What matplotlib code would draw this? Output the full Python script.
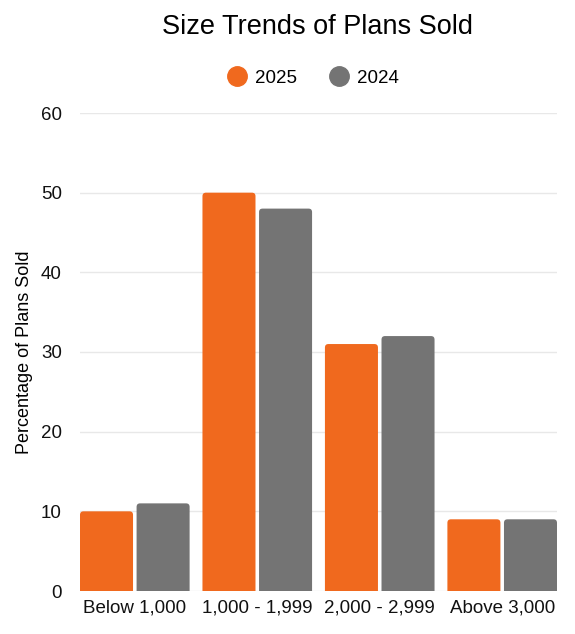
import matplotlib.pyplot as plt
import numpy as np
from matplotlib.patches import PathPatch
from matplotlib.path import Path
from matplotlib.lines import Line2D

plt.rcParams['font.family'] = ['Liberation Sans', 'DejaVu Sans']

categories = ["Below 1,000", "1,000 - 1,999", "2,000 - 2,999", "Above 3,000"]
values_2025 = [10, 50, 31, 9]
values_2024 = [11, 48, 32, 9]
orange = '#F0691E'
gray = '#747474'

fig = plt.figure(figsize=(5.75, 6.34), dpi=100)
ax_l, ax_r, ax_b, ax_t = 80, 557, 591, 113
ax = fig.add_axes([ax_l / 575, (634 - ax_b) / 634, (ax_r - ax_l) / 575, (ax_b - ax_t) / 634])

x = np.arange(len(categories))
w = 0.433
gap = 0.029
bars1 = ax.bar(x - w / 2 - gap / 2, values_2025, w, color=orange, zorder=3)
bars2 = ax.bar(x + w / 2 + gap / 2, values_2024, w, color=gray, zorder=3)

half = w + gap / 2
ax.set_xlim(-half, len(categories) - 1 + half)
ax.set_ylim(0, 60)

px_x = (len(categories) - 1 + 2 * half) / (ax_r - ax_l)
px_y = 60 / (ax_b - ax_t)


def rounded_top(b, rpx=3.5):
    # swap a bar for a path with its two top corners rounded (radius in pixels)
    x0, y0 = b.get_x(), b.get_y()
    x1, y1 = x0 + b.get_width(), y0 + b.get_height()
    rx = rpx * px_x
    ry = rpx * px_y
    verts = [(x0, y0), (x1, y0), (x1, y1 - ry), (x1, y1), (x1 - rx, y1),
             (x0 + rx, y1), (x0, y1), (x0, y1 - ry), (x0, y0)]
    codes = [Path.MOVETO, Path.LINETO, Path.LINETO, Path.CURVE3, Path.CURVE3,
             Path.LINETO, Path.CURVE3, Path.CURVE3, Path.CLOSEPOLY]
    b.set_visible(False)
    ax.add_patch(PathPatch(Path(verts, codes), fc=b.get_facecolor(), ec='none', zorder=3))


for b in list(bars1) + list(bars2):
    rounded_top(b)

ax.set_yticks(range(0, 61, 10))
ax.set_xticks(x)
ax.set_xticklabels(categories)
ax.grid(axis='y', color='#e8e8e8', linewidth=1, zorder=0)
for s in ax.spines.values():
    s.set_visible(False)
ax.tick_params(axis='both', length=0, labelsize=13.5, colors='#111111', pad=6)
ax.tick_params(axis='y', pad=13)
ax.set_ylabel("Percentage of Plans Sold", fontsize=13, labelpad=6)

fig.text(0.552, 0.957, "Size Trends of Plans Sold", ha='center', va='center', fontsize=19.5)

handles = [Line2D([], [], marker='o', color='none', markerfacecolor=orange, markeredgecolor=orange, markersize=14),
           Line2D([], [], marker='o', color='none', markerfacecolor=gray, markeredgecolor=gray, markersize=14)]
fig.legend(handles, ["2025", "2024"], loc='center', bbox_to_anchor=(0.543, 0.877), ncol=2,
           frameon=False, fontsize=13.5, handletextpad=0.4, columnspacing=1.6, handlelength=1.2)

fig.savefig("out.png", dpi=100)
